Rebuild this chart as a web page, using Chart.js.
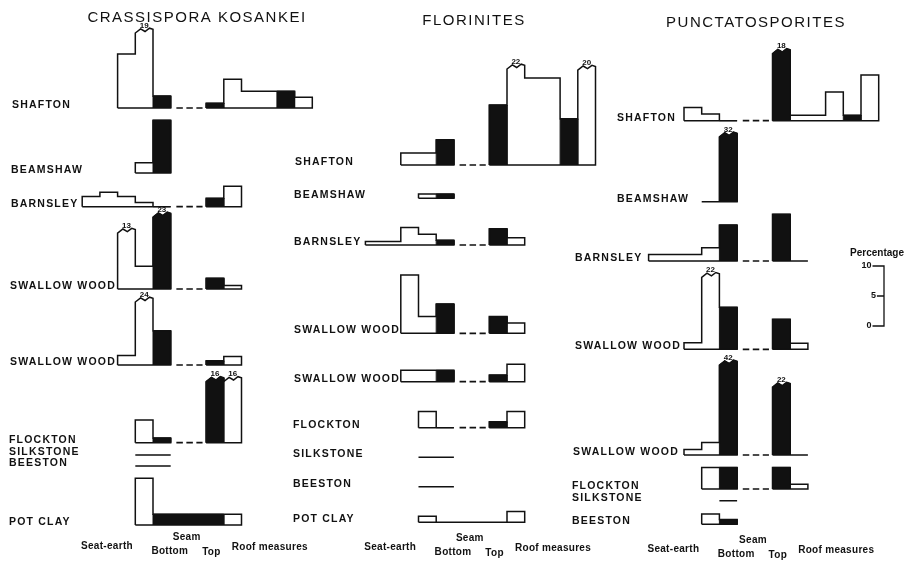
<!DOCTYPE html>
<html>
<head>
<meta charset="utf-8">
<title>Spore profiles</title>
<script src="https://cdn.jsdelivr.net/npm/chart.js@4"></script>
<style>
  html, body { margin: 0; padding: 0; background: #fff; }
  #wrap { width: 905px; height: 563px; }
</style>
</head>
<body>
<div id="wrap"><canvas id="chart" width="905" height="563"></canvas></div>
<script>
// bins of every profile: seat-earth S4..S1, seam bottom, gap, seam top, roof measures R1..R5
const bins = ['S4', 'S3', 'S2', 'S1', 'Bottom', 'G1', 'G2', 'Top', 'R1', 'R2', 'R3', 'R4', 'R5'];

const seamNames = ['SHAFTON', 'BEAMSHAW', 'BARNSLEY', 'SWALLOW WOOD', 'SWALLOW WOOD',
                   'FLOCKTON', 'SILKSTONE', 'BEESTON', 'POT CLAY'];

// percentages as drawn (broken bars are drawn short, real value in *Breaks)
const kosankeiValues = [
  [null, null, 9, 12.5, 2, null, null, 0.8, 4.8, 2.8, 2.8, 2.8, 1.8],
  [null, null, null, 1.7, 8.8],
  [1.7, 2.4, 1.7, 0.7, 0, null, null, 1.4, 3.4],
  [null, null, 9.3, 3.8, 12, null, null, 1.8, 0.6],
  [null, null, 1.6, 10.5, 5.7, null, null, 0.7, 1.4],
  [null, null, null, 3.8, 0.8, null, null, 10.2, 10.2],
  [null, null, null, 0, 0],
  [null, null, null, 0, 0],
  [null, null, null, 7.8, 1.8, 1.8, 1.8, 1.8, 1.8]
];
const kosankeiCoal = [['Bottom', 'Top', 'R4'], ['Bottom'], ['Bottom', 'Top'], ['Bottom', 'Top'],
  ['Bottom', 'Top'], ['Bottom', 'Top'], [], [], ['Bottom', 'G1', 'G2', 'Top']];
const kosankeiBreaks = [
  { row: 0, bin: 'S1', value: 19 },
  { row: 3, bin: 'S2', value: 13 },
  { row: 3, bin: 'Bottom', value: 23 },
  { row: 4, bin: 'S1', value: 24 },
  { row: 5, bin: 'Top', value: 16 },
  { row: 5, bin: 'R1', value: 16 }
];

const florinitesValues = [
  [null, null, 2, 2, 4.2, null, null, 10, 16, 14.5, 14.5, 7.7, 15.8],
  [null, null, null, 0.7, 0.7],
  [0.6, 0.6, 2.9, 1.8, 0.8, null, null, 2.7, 1.2],
  [null, null, 9.7, 2.8, 4.9, null, null, 2.8, 1.7],
  [null, null, 1.9, 1.9, 1.9, null, null, 1.1, 2.9],
  [null, null, null, 2.7, 0, null, null, 1, 2.7],
  [null, null, null, 0, 0],
  [null, null, null, 0, 0],
  [null, null, null, 1, 0, 0, 0, 0, 1.8]
];
const florinitesCoal = [['Bottom', 'Top', 'R4'], ['Bottom'], ['Bottom', 'Top'], ['Bottom', 'Top'],
  ['Bottom', 'Top'], ['Bottom', 'Top'], [], [], []];
const florinitesBreaks = [
  { row: 0, bin: 'R1', value: 22 },
  { row: 0, bin: 'R5', value: 20 }
];

const punctatoValues = [
  [null, null, 2.2, 1.1, 0, null, null, 11.2, 0.9, 0.9, 4.8, 0.9, 7.6],
  [null, null, null, 0, 10.8],
  [1.1, 1.1, 1.1, 2.2, 6, null, null, 7.8, 0],
  [null, null, 1.1, 12, 7, null, null, 5, 1],
  [null, null, 0.9, 2.1, 15, null, null, 11.3, 0],
  [null, null, null, 3.6, 3.6, null, null, 3.6, 0.8],
  [null, null, null, null, 0],
  [null, null, null, 1.7, 0.8]
];
const punctatoCoal = [['Bottom', 'Top', 'R4'], ['Bottom'], ['Bottom', 'Top'], ['Bottom', 'Top'],
  ['Bottom', 'Top'], ['Bottom', 'Top'], [], ['Bottom']];
const punctatoBreaks = [
  { row: 0, bin: 'Top', value: 18 },
  { row: 1, bin: 'Bottom', value: 32 },
  { row: 3, bin: 'S1', value: 22 },
  { row: 4, bin: 'Bottom', value: 42 },
  { row: 4, bin: 'Top', value: 22 }
];

const legendTicks = [0, 5, 10];
const axisWords = ['Seat-earth', 'Seam', 'Bottom', 'Top', 'Roof measures'];

// ---- layout (pixels of the 905x563 page, turned into axis units below) ----
const W = 905, H = 563;
const PX_PER_BIN = 17.7;
const PX_PER_PCT = 6;
const X_MIN = 9 - 153 / PX_PER_BIN;
const toX = px => X_MIN + px / PX_PER_BIN;
const toY = px => (H - px) / PX_PER_PCT;

const columns = [
  {
    title: 'CRASSISPORA KOSANKEI', titleAt: [197, 18], origin: 9,
    values: kosankeiValues, coal: kosankeiCoal, breaks: kosankeiBreaks,
    base: [108, 173, 206.7, 289, 365, 442.7, 455, 466, 525],
    labelX: [12, 11, 11, 10, 10, 9, 9, 9, 9], wordsDy: 0
  },
  {
    title: 'FLORINITES', titleAt: [474, 21], origin: 25,
    values: florinitesValues, coal: florinitesCoal, breaks: florinitesBreaks,
    base: [165, 198.3, 245, 333.3, 381.7, 427.7, 457.3, 486.7, 522.3],
    labelX: [295, 294, 294, 294, 294, 293, 293, 293, 293], wordsDy: 1
  },
  {
    title: 'PUNCTATOSPORITES', titleAt: [756, 23], origin: 41,
    values: punctatoValues, coal: punctatoCoal, breaks: punctatoBreaks,
    base: [120.7, 201.7, 261, 349.3, 455, 489, 500.7, 524.3],
    labelX: [617, 617, 575, 575, 573, 572, 572, 572], wordsDy: 3
  }
];
// axis words: offset from seam-bottom bin (bins) and page y
const wordsAt = [[-2.6, 546], [1.9, 537], [0.95, 551], [3.3, 552], [6.6, 547]];
const legendAt = { x: 884, base: 326, title: [877, 253] };

// small wavy top used on broken bars
const WAVE = [[0.3, 0.7], [0.55, 0.25], [0.8, 0.8], [1, 0.6]];

const LINE = '#111';
const datasets = [];
const breakLabels = [];

function lineSet(points, extra) {
  return Object.assign({
    data: points,
    showLine: true,
    borderColor: LINE,
    borderWidth: 1.5,
    pointRadius: 0,
    pointHoverRadius: 0,
    fill: false,
    tension: 0
  }, extra || {});
}

function topPoints(x0, h, broken) {
  const pts = [{ x: x0, y: h }];
  if (broken) WAVE.forEach(([f, dy]) => pts.push({ x: x0 + f, y: h + dy }));
  else pts.push({ x: x0 + 1, y: h });
  return pts;
}

columns.forEach(col => {
  col.values.forEach((rowVals, r) => {
    const vals = bins.map((_, i) => rowVals[i] === undefined ? null : rowVals[i]);
    const base = toY(col.base[r]);
    const xOf = i => col.origin + (i - bins.indexOf('Bottom'));
    const isBroken = i => col.breaks.some(b => b.row === r && b.bin === bins[i]);

    // outline of each contiguous run of bins
    let i = 0;
    while (i < vals.length) {
      if (vals[i] === null) { i++; continue; }
      const start = i;
      const pts = [{ x: xOf(i), y: base }];
      while (i < vals.length && vals[i] !== null) {
        pts.push(...topPoints(xOf(i), base + vals[i], isBroken(i)));
        i++;
      }
      pts.push({ x: xOf(i), y: base }, { x: xOf(start), y: base });
      datasets.push(lineSet(pts));
    }

    // coal bins filled black
    const coalIdx = col.coal[r].map(n => bins.indexOf(n)).filter(k => vals[k] !== null);
    let k = 0;
    while (k < coalIdx.length) {
      const first = coalIdx[k];
      let last = first;
      while (k + 1 < coalIdx.length && coalIdx[k + 1] === last + 1) { k++; last++; }
      k++;
      const pts = [{ x: xOf(first), y: base }];
      for (let j = first; j <= last; j++) pts.push(...topPoints(xOf(j), base + vals[j], isBroken(j)));
      pts.push({ x: xOf(last + 1), y: base });
      datasets.push(lineSet(pts, { borderWidth: 1, backgroundColor: LINE, fill: { value: base } }));
    }

    // dashed link across the gap
    const g1 = bins.indexOf('G1'), g2 = bins.indexOf('G2'), top = bins.indexOf('Top');
    if (vals[g1] === null && vals[g2] === null && vals[top] !== null) {
      datasets.push(lineSet([{ x: xOf(g1) + 0.32, y: base }, { x: xOf(top) - 0.2, y: base }],
        { borderDash: [6.5, 3.5], borderWidth: 1.7 }));
    }

    col.breaks.filter(b => b.row === r).forEach(b => {
      const j = bins.indexOf(b.bin);
      breakLabels.push({ x: xOf(j) + 0.5, y: base + vals[j] + 1.25, text: String(b.value) });
    });
  });
});

// percentage scale bar: ticks on the left of a vertical bar
const lx = toX(legendAt.x), lb = toY(legendAt.base);
const tickLen = t => (t === 5 ? 0.4 : 0.65);
const legendPts = [];
const topDown = legendTicks.slice().reverse();
topDown.forEach((t, n) => {
  if (n === 0) legendPts.push({ x: lx - tickLen(t), y: lb + t }, { x: lx, y: lb + t });
  else if (n === topDown.length - 1) legendPts.push({ x: lx, y: lb + t }, { x: lx - tickLen(t), y: lb + t });
  else legendPts.push({ x: lx, y: lb + t }, { x: lx - tickLen(t), y: lb + t }, { x: lx, y: lb + t });
});
datasets.push(lineSet(legendPts, { borderWidth: 1.3 }));

const textPlugin = {
  id: 'figureText',
  afterDatasetsDraw(chart) {
    const { ctx, scales: { x, y } } = chart;
    const at = (px, py) => [x.getPixelForValue(toX(px)), y.getPixelForValue(toY(py))];
    ctx.save();
    ctx.fillStyle = LINE;

    columns.forEach(col => {
      ctx.font = '15px "Liberation Sans", Arial, sans-serif';
      ctx.letterSpacing = '1.5px';
      ctx.textAlign = 'center';
      ctx.textBaseline = 'middle';
      ctx.fillText(col.title, ...at(col.titleAt[0], col.titleAt[1]));

      ctx.font = 'bold 10.5px "Liberation Sans", Arial, sans-serif';
      ctx.letterSpacing = '1.2px';
      ctx.textAlign = 'left';
      ctx.textBaseline = 'alphabetic';
      col.values.forEach((_, r) => {
        ctx.fillText(seamNames[r], ...at(col.labelX[r], col.base[r]));
      });

      ctx.font = 'bold 10px "Liberation Sans", Arial, sans-serif';
      ctx.letterSpacing = '0.3px';
      ctx.textAlign = 'center';
      ctx.textBaseline = 'middle';
      axisWords.forEach((w, n) => {
        ctx.fillText(w, x.getPixelForValue(col.origin + wordsAt[n][0]),
          y.getPixelForValue(toY(wordsAt[n][1] + col.wordsDy)));
      });
    });

    ctx.font = 'bold 8px "Liberation Sans", Arial, sans-serif';
    ctx.letterSpacing = '0px';
    ctx.textAlign = 'center';
    ctx.textBaseline = 'middle';
    breakLabels.forEach(b => ctx.fillText(b.text, x.getPixelForValue(b.x), y.getPixelForValue(b.y)));

    ctx.font = 'bold 10px "Liberation Sans", Arial, sans-serif';
    ctx.fillText('Percentage', ...at(legendAt.title[0], legendAt.title[1]));
    ctx.font = 'bold 9px "Liberation Sans", Arial, sans-serif';
    ctx.textAlign = 'right';
    legendTicks.forEach(t => {
      ctx.fillText(String(t), x.getPixelForValue(lx - tickLen(t)) - 1, y.getPixelForValue(lb + t));
    });
    ctx.restore();
  }
};

new Chart(document.getElementById('chart'), {
  type: 'scatter',
  data: { datasets },
  options: {
    responsive: false,
    animation: false,
    events: [],
    layout: { padding: 0, autoPadding: false },
    plugins: { legend: { display: false }, tooltip: { enabled: false } },
    scales: {
      x: { type: 'linear', display: false, min: X_MIN, max: X_MIN + W / PX_PER_BIN },
      y: { type: 'linear', display: false, min: 0, max: H / PX_PER_PCT }
    }
  },
  plugins: [textPlugin]
});
</script>
</body>
</html>
